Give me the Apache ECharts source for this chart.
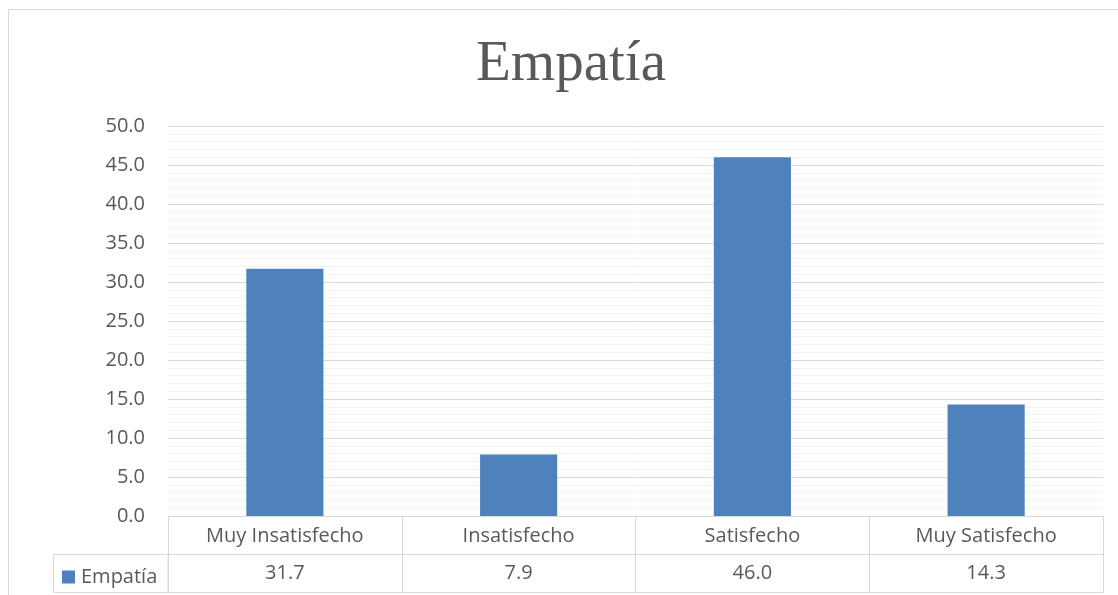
<!DOCTYPE html>
<html>
<head>
<meta charset="utf-8">
<style>
    html, body { margin: 0; padding: 0; background: #fff; }
    #chart { width: 1118px; height: 595px; }
</style>
<script src="https://cdn.jsdelivr.net/npm/echarts@6/dist/echarts.min.js"></script>
</head>
<body>
<div id="chart"></div>
<script>
    var titulo = 'Empatía';
    var serieNombre = 'Empatía';
    var categorias = ['Muy Insatisfecho', 'Insatisfecho', 'Satisfecho', 'Muy Satisfecho'];
    var valores = [31.7, 7.9, 46.0, 14.3];

    var fuente = '"Open Sans", Lato, sans-serif';
    var gris = '#595959';
    var linea = '#d9d9d9';

    var chart = echarts.init(document.getElementById('chart'));
    var option = {
        animation: false,
        title: {
            text: titulo,
            left: 566,
            top: 32,
            textAlign: 'center',
            textStyle: { fontFamily: '"Liberation Serif", serif', fontSize: 57, fontWeight: 'normal', color: gris }
        },
        legend: {
            data: [serieNombre],
            left: 57,
            top: 562,
            itemWidth: 13,
            itemHeight: 13,
            itemGap: 4,
            icon: 'rect',
            textStyle: { fontFamily: fuente, fontSize: 20, color: gris, padding: [0, 0, 0, 1] }
        },
        grid: { left: 168, right: 15, top: 126, bottom: 79 },
        xAxis: [
            {
                type: 'category',
                data: categorias,
                position: 'bottom',
                axisLine: { lineStyle: { color: linea } },
                axisTick: { show: true, length: 76, lineStyle: { color: linea } },
                axisLabel: { margin: 10, fontFamily: fuente, fontSize: 20, color: gris }
            },
            {
                type: 'category',
                data: categorias,
                position: 'bottom',
                offset: 38,
                axisLine: { lineStyle: { color: linea } },
                axisTick: { show: false },
                axisLabel: {
                    margin: 9, fontFamily: fuente, fontSize: 20, color: gris,
                    formatter: function (v, i) { return valores[i].toFixed(1); }
                }
            },
            {
                type: 'category',
                data: categorias,
                position: 'bottom',
                offset: 76,
                axisLine: { lineStyle: { color: linea } },
                axisTick: { show: false },
                axisLabel: { show: false }
            }
        ],
        yAxis: {
            type: 'value',
            min: 0,
            max: 50,
            interval: 5,
            axisLine: { show: false },
            axisTick: { show: false },
            axisLabel: {
                margin: 23, fontFamily: fuente, fontSize: 20, color: gris,
                formatter: function (v) { return v.toFixed(1); }
            },
            splitLine: { lineStyle: { color: linea } },
            minorTick: { show: false, splitNumber: 5 },
            minorSplitLine: { show: true, lineStyle: { color: '#f2f2f2' } }
        },
        graphic: [
            {
                type: 'rect',
                shape: { x: 8.5, y: 9.5, width: 1130, height: 600 },
                style: { fill: 'none', stroke: linea, lineWidth: 1 },
                silent: true
            },
            {
                type: 'rect',
                shape: { x: 53.5, y: 554.5, width: 114.5, height: 38 },
                style: { fill: 'none', stroke: linea, lineWidth: 1 },
                silent: true
            }
        ],
        series: [
            {
                name: serieNombre,
                type: 'bar',
                data: valores,
                barWidth: '33%',
                itemStyle: { color: '#4f81bd' }
            }
        ]
    };
    chart.setOption(option);
</script>
</body>
</html>
